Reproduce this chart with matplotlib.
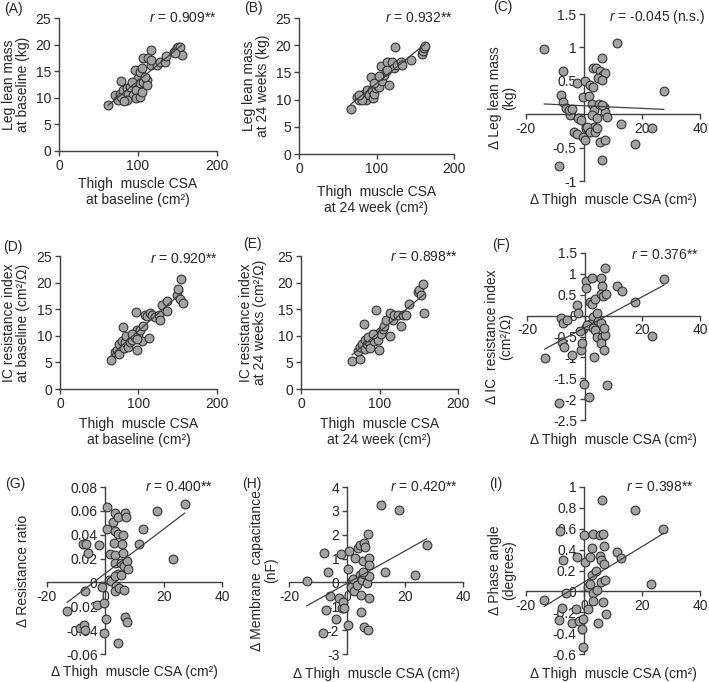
import matplotlib
matplotlib.use('Agg')
import matplotlib.pyplot as plt
import numpy as np
from matplotlib.ticker import FuncFormatter, MultipleLocator

plt.rcParams['font.family'] = ['Liberation Sans', 'DejaVu Sans']
plt.rcParams['axes.unicode_minus'] = False
plt.rcParams['mathtext.fontset'] = 'custom'
plt.rcParams['mathtext.it'] = 'Liberation Sans:italic'
plt.rcParams['mathtext.rm'] = 'Liberation Sans'

# ---------------- data ----------------
a_x = [62.3, 70.8, 75, 77, 79, 81, 79, 85.6, 87.7, 89.8, 94, 96, 98, 100, 98, 85.6, 82, 102.5, 104.7,
       102.5, 106.8, 96, 102.5, 104.7, 106.8, 111, 111, 113, 117, 117, 124, 128, 134, 136, 145, 149,
       151, 153, 155.5, 147, 109, 92, 117]
a_y = [8.6, 10.5, 9.6, 10.8, 10.1, 11.5, 13.2, 11.8, 10.8, 12.1, 10.5, 12.7, 11.5, 13.7, 9.9, 9.6, 9.4,
       10.2, 11.1, 12.7, 13.0, 15.2, 14.9, 15.6, 17.4, 13.4, 12.4, 17.4, 19.0, 16.2, 16.2, 16.8, 16.8,
       17.9, 18.7, 19.3, 19.6, 19.5, 18.1, 18.4, 14.0, 13.0, 17.1]

b_x = [66.7, 75.3, 77.4, 81.7, 83.9, 86, 88.2, 90.3, 92.5, 94.6, 95.5, 96.8, 98.9, 101, 103, 105.4,
       107.5, 109.7, 112, 114, 116, 120.4, 123.4, 122.6, 127, 131, 133, 144, 159, 160, 161, 163, 96.8,
       81.7, 77.4, 103, 114]
b_y = [8.3, 10.4, 10.0, 10.6, 11.1, 10.0, 11.8, 10.9, 14.2, 11.8, 10.3, 11.1, 12.1, 12.7, 12.4, 16.1,
       13.4, 14.6, 15.2, 17.0, 12.7, 17.0, 19.7, 15.8, 16.4, 17.0, 16.4, 17.3, 18.3, 18.9, 19.5, 19.8,
       13.1, 9.9, 10.9, 14.3, 15.5]

c_x = [-13.7, -7.4, -7.9, -7.1, -6.2, -4.8, -5.3, -4.0, -8.6, -2.5, -1.9, -1.0, -3.6, -2.5, -0.5, 0.2,
       0.4, -0.2, 1.6, 2.2, 3.0, 3.0, 4.1, 5.6, 6.2, 6.4, 7.1, 4.8, 6.2, 2.7, 3.3, 2.7, 4.5, 3.3, 1.0,
       2.2, 3.9, 4.5, 5.6, 7.1, 6.2, 6.8, 7.1, 7.9, 5.0, 6.2, 11.4, 12.9, 23.3, 17.7, 27.5]
c_y = [0.98, 0.64, 0.28, 0.19, 0.10, -0.01, 0.06, 0.08, -0.78, 0.47, -0.06, -0.09, -0.26, -0.29, -0.34,
       -0.39, 0.49, 0.26, 0.27, 0.44, 0.41, 0.69, 0.69, 0.65, 0.84, 0.59, 0.61, 0.54, 0.51, 0.16, 0.06,
       -0.01, -0.06, -0.19, -0.19, -0.26, -0.26, -0.21, -0.41, -0.39, -0.68, 0.11, 0.03, -0.04, 0.16,
       0.14, 1.06, -0.14, -0.20, -0.45, 0.35]

d_x = [65.1, 70.2, 73.2, 75.7, 75.7, 78.7, 80, 81.7, 83, 83.8, 86.8, 89.4, 91.5, 93.6, 95.7, 96.6, 97.9,
       98.7, 100, 102, 104, 106, 108.5, 110.6, 112.8, 115, 117, 121, 125.5, 127.7, 129.8, 136, 136, 149,
       150, 154.5, 153, 156.6, 91.5, 97.9]
d_y = [5.5, 6.9, 7.4, 6.6, 8.5, 9.1, 11.6, 7.7, 8.8, 9.9, 7.9, 8.8, 9.3, 10.4, 9.8, 14.5, 11.0, 7.4,
       10.3, 11.1, 9.1, 11.8, 14.0, 13.7, 9.6, 14.3, 13.9, 13.5, 14.0, 12.9, 15.7, 16.6, 14.7, 17.6,
       18.8, 20.7, 17.0, 16.2, 10.4, 9.4]

e_x = [65.1, 75.3, 72.3, 75.3, 77.9, 80, 80.9, 82.1, 83.8, 86.4, 88, 90.2, 92.8, 94.9, 95.7, 97.9, 99.1,
       100, 102, 104, 106, 108.5, 112.8, 113.6, 117, 119, 123.4, 127.7, 129.8, 134, 137.4, 149, 150,
       153, 155.3, 156.6, 85, 91.5]
e_y = [5.2, 5.7, 7.2, 7.9, 8.4, 12.3, 9.3, 7.6, 8.5, 8.8, 7.7, 9.8, 9.1, 10.1, 14.9, 9.3, 7.4, 10.7,
       10.3, 11.3, 11.8, 12.9, 9.9, 14.3, 12.9, 13.9, 13.9, 11.8, 13.9, 13.9, 15.9, 18.3, 18.6, 17.6,
       19.7, 14.2, 9.8, 10.4]

f_x = [-13.9, -8.8, -8.1, -7.6, -6.3, -7.8, -7.3, -4.4, -2.7, -2.3, -1.5, -1.1, -0.9, 0.3, 0.3, -0.2,
       1.4, 2.6, 2.0, 2.6, 2.8, 2.0, 0.8, 3.7, 2.8, 3.7, 4.3, 3.2, 4.6, 5.8, 6.1, 5.5, 6.3, 7.0, 7.5,
       5.8, 6.1, 5.5, 6.6, 7.2, 7.8, 6.6, 11.3, 12.8, 17.6, 23.2, 27.5, 4.3]
f_y = [-1.01, -2.09, -0.06, -0.18, -0.11, -0.62, -0.74, -0.94, 0.25, 0.06, -0.38, -0.82, -0.66, 0.83,
       0.65, -1.63, -1.95, 0.89, 0.33, 0.28, -0.04, -0.20, -0.22, 0.39, -0.30, -0.34, -0.50, -0.98,
       -0.14, 0.91, 0.71, 0.51, 0.48, 1.15, 0.51, -0.18, -0.52, -0.66, -0.82, -0.46, -1.65, -0.30,
       0.71, 0.60, 0.33, -0.48, 0.87, 0.06]

g_x = [-13.1, -8.6, -7.2, -6.9, -7.7, -6.5, -6.1, -6.9, -2.3, -2.9, -1.1, -0.3, 0.3, -0.3, 0.6, 0.6,
       1.1, 1.9, 1.7, 2.6, 3.4, 4.2, 3.4, 4.2, 2.9, 3.4, 3.4, 4.2, 3.4, 3.8, 3.4, 4.6, 4.2, 5.4, 5.7,
       6.1, 6.1, 6.5, 6.5, 6.9, 7.2, 6.9, 7.4, 7.4, 7.7, 5.4, 11.4, 12.9, 17.7, 23.2, 27.2]
g_y = [-0.024, -0.038, -0.036, -0.007, 0.032, 0.032, 0.025, -0.040, 0.031, -0.019, -0.004, -0.017,
       -0.031, -0.042, 0.063, 0.045, 0.002, 0.001, 0.024, 0.051, 0.058, 0.055, 0.043, 0.041, 0.033,
       0.023, 0.016, 0.007, 0.005, -0.003, -0.007, -0.005, -0.051, 0.016, 0.032, 0.040, 0.025, -0.006,
       0.014, 0.058, 0.055, -0.029, -0.033, 0.018, 0.011, 0.006, 0.032, 0.045, 0.060, 0.020, 0.066]

h_x = [-13.9, -7.9, -6.7, -5.9, -7.1, -8.2, -3.8, -2.7, -2.1, -1.8, -1.3, -1.0, 0.2, 0.2, 0.8, 1.7, 1.3,
       2.2, 2.5, 2.8, 3.3, 3.7, 4.5, 4.5, 4.8, 4.8, 5.2, 5.6, 6.0, 6.3, 6.0, 6.0, 7.1, 6.8, 7.1, 7.7,
       7.7, 7.5, 7.7, 11.7, 13.2, 18.1, 23.6, 27.5, 5.4]
h_y = [0.04, 1.22, 0.43, -0.55, -1.15, -2.13, -1.53, -0.66, 1.20, -1.07, -0.83, -1.07, -1.77, 0.57,
       1.31, 0.08, -0.20, 0.15, -0.34, 1.03, -0.09, 1.45, 1.55, 0.33, -0.51, -1.25, 0.11, 0.89, 1.65,
       1.48, 0.36, -1.85, 2.01, -0.03, -1.99, 1.03, 0.71, 0.25, -0.65, 3.23, 0.43, 3.05, 0.33, 1.55, 0.43]

i_x = [-13.7, -8.3, -8.6, -7.1, -6.3, -7.5, -4.3, -2.5, -2.9, -1.7, -0.8, -0.2, 0.1, -0.2, 0.3, 1.3,
       1.5, 2.1, 2.9, 2.9, 3.2, 3.2, 3.2, 4.0, 4.4, 4.7, 5.5, 5.5, 5.9, 5.9, 6.3, 7.0, 7.0, 7.2, 7.6,
       6.7, 11.3, 12.8, 17.6, 23.1, 27.4, 6.7, 2.1]
i_y = [-0.08, 0.58, -0.27, 0.30, -0.02, -0.16, -0.30, 0.33, -0.17, -0.28, -0.36, -0.26, 0.54, -0.53,
       0.28, 0.04, -0.17, 0.33, 0.42, 0.16, 0.55, -0.02, -0.09, 0.20, 0.01, -0.30, 0.54, 0.34, 0.30,
       0.09, 0.88, 0.43, 0.26, 0.11, -0.22, -0.10, 0.38, 0.32, 0.78, 0.07, 0.60, 0.55, 0.07]

r_texts = ['0.909**', '0.932**', '-0.045 (n.s.)', '0.920**', '0.898**', '0.376**',
           '0.400**', '0.420**', '0.398**']
panel_tags = ['(A)', '(B)', '(C)', '(D)', '(E)', '(F)', '(G)', '(H)', '(I)']
y_labels = ['Leg lean mass\nat baseline (kg)', 'Leg lean mass\nat 24 weeks (kg)',
            '\u0394 Leg lean mass\n(kg)',
            'IC resistance index\nat baseline (cm\u00b2/\u03a9)',
            'IC resistance index\nat 24 weeks (cm\u00b2/\u03a9)',
            '\u0394 IC  resistance index\n(cm\u00b2/\u03a9)',
            '\u0394 Resistance ratio', '\u0394 Membrane  capacitance\n(nF)',
            '\u0394 Phase angle\n(degrees)']
dx_label = '\u0394 Thigh  muscle CSA (cm\u00b2)'
x_labels = ['Thigh  muscle CSA\nat baseline (cm\u00b2)', 'Thigh  muscle CSA\nat 24 week (cm\u00b2)',
            dx_label, 'Thigh  muscle CSA\nat baseline (cm\u00b2)',
            'Thigh  muscle CSA\nat 24 week (cm\u00b2)', dx_label, dx_label, dx_label, dx_label]

xs = [a_x, b_x, c_x, d_x, e_x, f_x, g_x, h_x, i_x]
ys = [a_y, b_y, c_y, d_y, e_y, f_y, g_y, h_y, i_y]

# ---------------- layout (pixel boxes: left, top, right, bottom) ----------------
W, H = 709, 682
fig = plt.figure(figsize=(W / 100, H / 100), dpi=100)

def F(x, y):
    return x / W, 1 - y / H

boxes = [(59, 18, 217, 151), (299, 18, 454, 154), (526, 14, 700, 181),
         (60, 256, 217, 389), (301, 256, 458, 389), (527, 253, 700, 420),
         (47, 487, 222, 654), (289, 487, 463, 654), (526, 487, 700, 654)]
lims = [((0, 200, 100), (0, 25, 5)), ((0, 200, 100), (0, 25, 5)), ((-20, 40, 20), (-1, 1.5, 0.5)),
        ((0, 200, 100), (0, 25, 5)), ((0, 200, 100), (0, 25, 5)), ((-20, 40, 20), (-2.5, 1.5, 0.5)),
        ((-20, 40, 20), (-0.06, 0.08, 0.02)), ((-20, 40, 20), (-3, 4, 1)),
        ((-20, 40, 20), (-0.6, 1.0, 0.2))]
tag_pos = [(13, 9), (253, 8), (503, 7), (13, 247), (252, 244), (501, 245), (15, 484), (252, 484), (496, 484)]
r_pos = [(217, 18), (453, 18), (705, 17), (218, 259), (458, 257), (699, 255), (213, 487), (458, 487), (694, 487)]
ylab_x = [16, 256, 502, 16, 253, 499, 23, 264, 502]
xlab_y = [192, 200, 200, 432, 432, 440, 672, 674, 674]

spine_c = '#404040'
txt_c = '#262626'
fs = 10

for k in range(9):
    l, t, r, b = boxes[k]
    x0, y0 = F(l, b)
    ax = fig.add_axes([x0, y0, (r - l) / W, (b - t) / H])
    (xa, xb, xs_), (ya, yb, ys_) = lims[k]
    ax.set_xlim(xa, xb)
    ax.set_ylim(ya, yb)
    ax.xaxis.set_major_locator(MultipleLocator(xs_))
    ax.yaxis.set_major_locator(MultipleLocator(ys_))
    fmt = FuncFormatter(lambda v, p: ('%.10g' % round(v, 6)))
    ax.xaxis.set_major_formatter(fmt)
    ax.yaxis.set_major_formatter(fmt)
    for s in ['top', 'right']:
        ax.spines[s].set_visible(False)
    for s in ['left', 'bottom']:
        ax.spines[s].set_color(spine_c)
        ax.spines[s].set_linewidth(1.0)
    if xa < 0:
        ax.spines['left'].set_position(('data', 0))
        ax.spines['bottom'].set_position(('data', 0))
    ax.tick_params(direction='out', length=3.5, width=1.0, color=spine_c,
                   labelsize=fs, pad=2, labelcolor=txt_c)
    ax.patch.set_alpha(0)

    x = np.array(xs[k], dtype=float)
    y = np.array(ys[k], dtype=float)
    ax.scatter(x, y, s=40, facecolor='#a3a3a3', edgecolor='#333333', linewidth=0.8, zorder=3,
               clip_on=False)
    m, c0 = np.polyfit(x, y, 1)
    xx = np.array([x.min(), x.max()])
    ax.plot(xx, m * xx + c0, color='#404040', lw=0.9, zorder=4)

    # texts
    fig.text(*F(*tag_pos[k]), panel_tags[k], ha='center', va='center', fontsize=fs, color=txt_c)
    fig.text(*F(*r_pos[k]), r'$r$ = ' + r_texts[k], ha='right', va='center', fontsize=fs,
             color=txt_c)
    fig.text(*F(ylab_x[k], (t + b) / 2), y_labels[k], rotation=90, ha='center', va='center',
             fontsize=fs, color=txt_c, linespacing=1.05, multialignment='center')
    fig.text(*F((l + r) / 2, xlab_y[k]), x_labels[k], ha='center', va='center', fontsize=fs,
             color=txt_c, linespacing=1.1, multialignment='center')

fig.savefig('out.png', dpi=100)
